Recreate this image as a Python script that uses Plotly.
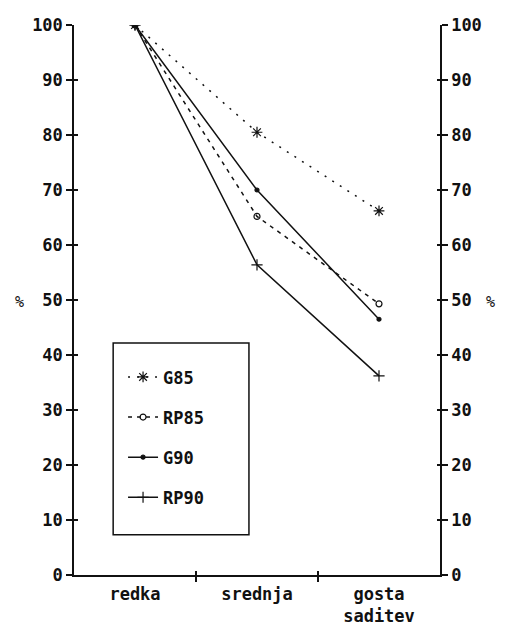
import plotly.graph_objects as go

categories = ["redka", "srednja", "gosta<br>saditev"]
series_names = ["G85", "RP85", "G90", "RP90"]
g85 = [100, 80.5, 66.2]
rp85 = [100, 65.2, 49.3]
g90 = [100, 70.0, 46.5]
rp90 = [100, 56.4, 36.2]
y_ticks = [0, 10, 20, 30, 40, 50, 60, 70, 80, 90, 100]

INK = "#111111"
FONT = "DejaVu Sans Mono"
xpos = [0, 1, 2]

styles = [
    dict(dash="2px,7px", symbol="asterisk-open", size=9),
    dict(dash="4px,5px", symbol="circle-open", size=6),
    dict(dash="solid", symbol="circle", size=4),
    dict(dash="solid", symbol="cross-thin-open", size=8),
]

fig = go.Figure()
for name, vals, st in zip(series_names, [g85, rp85, g90, rp90], styles):
    fig.add_trace(go.Scatter(
        x=xpos, y=vals, name=name, mode="lines+markers",
        legendgroup=name,
        line=dict(color=INK, width=1.5, dash=st["dash"]),
        marker=dict(symbol=st["symbol"], size=st["size"], color=INK,
                    line=dict(color=INK, width=1.2)),
    ))

# helper traces to activate overlay axes (tick crosses)
for xa, ya in [("x", "y2"), ("x", "y3"), ("x", "y4"), ("x2", "y")]:
    fig.add_trace(go.Scatter(x=[None], y=[None], xaxis=xa, yaxis=ya,
                             showlegend=False, hoverinfo="skip"))

tickfont = dict(family=FONT, size=17, color=INK, weight="bold")

fig.update_layout(
    width=500, height=617,
    margin=dict(l=66, r=68, t=17, b=50, autoexpand=False),
    paper_bgcolor="white", plot_bgcolor="white",
    showlegend=True,
    legend=dict(x=0.134, y=0.392, xanchor="left", yanchor="top",
                bgcolor="rgba(0,0,0,0)", borderwidth=0,
                font=dict(family=FONT, size=17, color=INK, weight="bold"),
                tracegroupgap=15, itemwidth=30),
    xaxis=dict(range=[-0.5, 2.5], tickmode="array", tickvals=xpos,
               ticktext=categories, ticks="", showgrid=False, zeroline=False,
               showline=True, linecolor=INK, linewidth=1.5, automargin=False,
               tickfont=dict(family=FONT, size=17, color=INK, weight="bold"),
               ticklabelstandoff=3,
               minor=dict(tickvals=[0.5, 1.5], ticks="outside", ticklen=5,
                          tickcolor=INK, tickwidth=1.5)),
    xaxis2=dict(range=[-0.5, 2.5], overlaying="x", anchor="y", side="bottom",
                tickmode="array", tickvals=[0.5, 1.5], ticks="inside", ticklen=4,
                tickcolor=INK, tickwidth=1.5, showticklabels=False, automargin=False,
                showgrid=False, zeroline=False, showline=False),
    yaxis=dict(range=[0, 100], tickmode="array", tickvals=y_ticks,
               ticks="outside", ticklen=6, tickcolor=INK, tickwidth=1.5,
               showgrid=False, zeroline=False, showline=True, linecolor=INK,
               linewidth=1.5, tickfont=tickfont, automargin=False),
    yaxis2=dict(range=[0, 100], overlaying="y", side="right", anchor="x",
                tickmode="array", tickvals=y_ticks, ticks="outside", ticklen=6,
                tickcolor=INK, tickwidth=1.5, showgrid=False, zeroline=False,
                showline=True, linecolor=INK, linewidth=1.5, tickfont=tickfont,
                automargin=False),
    yaxis3=dict(range=[0, 100], overlaying="y", side="left", anchor="x",
                tickmode="array", tickvals=y_ticks, ticks="inside", ticklen=4,
                tickcolor=INK, tickwidth=1.5, showticklabels=False, automargin=False,
                showgrid=False, zeroline=False, showline=False),
    yaxis4=dict(range=[0, 100], overlaying="y", side="right", anchor="x",
                tickmode="array", tickvals=y_ticks, ticks="inside", ticklen=3,
                tickcolor=INK, tickwidth=1.5, showticklabels=False, automargin=False,
                showgrid=False, zeroline=False, showline=False),
    shapes=[dict(type="rect", xref="paper", yref="paper",
                 x0=0.107, x1=0.478, y0=0.073, y1=0.422,
                 line=dict(color=INK, width=1.5), fillcolor="rgba(0,0,0,0)")],
    annotations=[
        dict(text="%", xref="paper", yref="paper", x=-0.167, y=0.496,
             showarrow=False, font=dict(family=FONT, size=15, color=INK)),
        dict(text="%", xref="paper", yref="paper", x=1.156, y=0.496,
             showarrow=False, font=dict(family=FONT, size=15, color=INK)),
    ],
)

fig.write_html("out.html")
